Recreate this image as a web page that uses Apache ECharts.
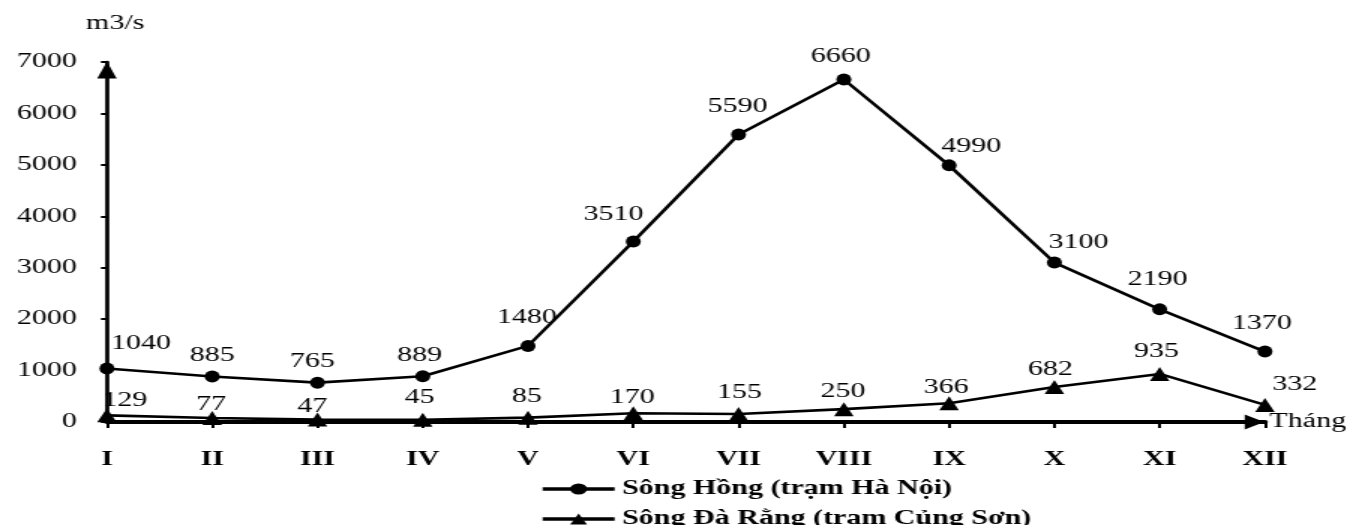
<!DOCTYPE html>
<html>
<head>
<meta charset="utf-8">
<title>Lưu lượng nước sông Hồng và sông Đà Rằng</title>
<script src="https://cdn.jsdelivr.net/npm/echarts@6/dist/echarts.min.js"></script>
<style>
  html, body { margin: 0; padding: 0; background: #fff; overflow: hidden; }
  #wrap { width: 1354px; height: 525px; overflow: hidden; }
  /* the reference is a horizontally stretched picture, so draw narrow and stretch */
  #chart { width: 903px; height: 525px; transform: scaleX(1.5); transform-origin: 0 0; }
</style>
</head>
<body>
<div id="wrap"><div id="chart"></div></div>
<script>
var months = ["I", "II", "III", "IV", "V", "VI", "VII", "VIII", "IX", "X", "XI", "XII"];
var songHong = [1040, 885, 765, 889, 1480, 3510, 5590, 6660, 4990, 3100, 2190, 1370];
var songDa = [129, 77, 47, 45, 85, 170, 155, 250, 366, 682, 935, 332];
var yMin = 0, yMax = 7000, yStep = 1000;
var nameHong = "Sông Hồng (trạm Hà Nội)";
var nameDa = "Sông Đà Rằng (trạm Củng Sơn)";

// label placement (screen px, before stretch), not data
var S = 1.5;
var hongDx = [34, 0, -5, -3, -1, -20, -1, -3, 22, 24, -2, -3];
var hongDy = [-25, -21, -21, -21, -28, -27, -28, -23, -19, -20, -30, -28];
var daDx = [18, -1, -5, -3, -1, -1, 1, -1, -3, -4, -3, 30];
var daDy = [-15, -13, -13, -22, -21, -16, -21, -17, -15, -17, -22, -20];

var font = "Liberation Serif";

function withLabels(values, dx, dy) {
  return values.map(function (v, i) {
    return { value: v, label: { offset: [dx[i] / S, dy[i]] } };
  });
}

var chart = echarts.init(document.getElementById("chart"));
var option = {
  animation: false,
  grid: { left: 71.3, right: 59.7, top: 62, bottom: 103 },
  legend: {
    orient: "vertical",
    left: 360,
    top: 479,
    padding: 0,
    height: 70,
    itemGap: 10,
    itemWidth: 48,
    itemHeight: 14,
    data: [nameHong, nameDa],
    lineStyle: { width: 3.5 },
    textStyle: { fontFamily: font, fontSize: 20, fontWeight: "bold", color: "#000", lineHeight: 20 }
  },
  xAxis: {
    type: "category",
    data: months,
    boundaryGap: false,
    name: "Tháng",
    nameLocation: "end",
    nameGap: 3,
    nameTextStyle: { fontFamily: font, fontSize: 20, color: "#000", padding: [12, 0, 0, 0] },
    axisLine: {
      lineStyle: { color: "#000", width: 4 },
      symbol: ["none", "triangle"],
      symbolSize: [15, 13],
      symbolOffset: [0, -7]
    },
    axisTick: { show: true, length: 6, lineStyle: { color: "#000", width: 2 } },
    axisLabel: { margin: 28, fontFamily: font, fontSize: 20, fontWeight: "bold", color: "#000" },
    splitLine: { show: false }
  },
  yAxis: {
    type: "value",
    min: yMin,
    max: yMax,
    interval: yStep,
    name: "m3/s",
    nameLocation: "end",
    nameGap: 28,
    nameTextStyle: { fontFamily: font, fontSize: 20, color: "#000", align: "center", padding: [0, 0, 0, 11] },
    axisLine: {
      show: true,
      lineStyle: { color: "#000", width: 2.7 },
      symbol: ["none", "triangle"],
      symbolSize: [13, 17],
      symbolOffset: [0, -8]
    },
    axisTick: { show: true, length: 4, lineStyle: { color: "#000", width: 2 } },
    axisLabel: {
      margin: 20, fontFamily: font, fontSize: 20, color: "#000",
      formatter: function (v) { return String(v); }
    },
    splitLine: { show: false }
  },
  series: [
    {
      name: nameHong,
      type: "line",
      data: withLabels(songHong, hongDx, hongDy),
      symbol: "circle",
      symbolSize: [10, 12],
      showAllSymbol: true,
      itemStyle: { color: "#000" },
      lineStyle: { color: "#000", width: 2.6 },
      label: {
        show: true,
        position: "inside",
        color: "#000",
        textBorderWidth: 0,
        fontFamily: font,
        fontSize: 20
      }
    },
    {
      name: nameDa,
      type: "line",
      data: withLabels(songDa, daDx, daDy),
      symbol: "triangle",
      symbolSize: [13, 14],
      showAllSymbol: true,
      itemStyle: { color: "#000" },
      lineStyle: { color: "#000", width: 2.6 },
      label: {
        show: true,
        position: "inside",
        color: "#000",
        textBorderWidth: 0,
        fontFamily: font,
        fontSize: 20
      }
    }
  ]
};
chart.setOption(option);
</script>
</body>
</html>
